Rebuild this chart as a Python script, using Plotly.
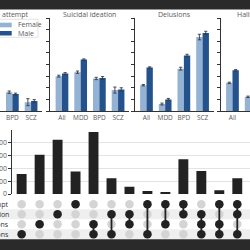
import plotly.graph_objects as go

# ---------------- data ----------------
groups = ["All", "MDD", "BPD", "SCZ"]
panel_titles = ["Suicide attempt", "Suicidal ideation", "Delusions", "Hallucinations"]

attempt_f = [None, None, 8.1, 3.8]
attempt_m = [None, None, 7.3, 4.3]
attempt_f_err = [0, 0, 0.5, 1.5]
attempt_m_err = [0, 0, 0.4, 0.6]

ideation_f = [15.0, 16.7, 14.0, 9.0]
ideation_m = [16.1, 22.1, 14.2, 9.3]
ideation_f_err = [0.4, 0.5, 0.5, 1.3]
ideation_m_err = [0.4, 0.3, 0.6, 0.7]

delusions_f = [11.1, 3.0, 18.2, 31.8]
delusions_m = [18.7, 5.0, 23.9, 33.6]
delusions_f_err = [0.3, 0.4, 0.6, 1.2]
delusions_m_err = [0.3, 0.4, 0.5, 0.7]

halluc_f = [12.1, 6.1, None, None]
halluc_m = [17.5, None, None, None]
halluc_f_err = [0.3, 0.3, 0, 0]
halluc_m_err = [0.3, 0, 0, 0]

set_names = ["Suicide attempt", "Suicidal ideation", "Delusions", "Hallucinations"]
intersections = [
    ("Hallucinations",),
    ("Delusions",),
    ("Suicidal ideation",),
    ("Suicide attempt",),
    ("Delusions", "Hallucinations"),
    ("Suicidal ideation", "Hallucinations"),
    ("Suicidal ideation", "Delusions"),
    ("Suicide attempt", "Hallucinations"),
    ("Suicide attempt", "Delusions"),
    ("Suicide attempt", "Suicidal ideation"),
    ("Suicidal ideation", "Delusions", "Hallucinations"),
    ("Suicide attempt", "Delusions", "Hallucinations"),
    ("Suicide attempt", "Suicidal ideation", "Hallucinations"),
]
intersection_counts = [781, 1523, 2109, 871, 2410, 613, 285, 117, 65, 1355, 898, 145, 613]

# ---------------- styling ----------------
W = H = 250
FEM = "#93b2d4"
MALE = "#23528c"
DARK = "#222222"
GREY_TXT = "#595959"
FONT = "Open Sans"

def px_x(v):
    return v / W

def px_y(v):
    return 1 - v / H

fig = go.Figure()

panels = [
    (attempt_f, attempt_m, attempt_f_err, attempt_m_err),
    (ideation_f, ideation_m, ideation_f_err, ideation_m_err),
    (delusions_f, delusions_m, delusions_f_err, delusions_m_err),
    (halluc_f, halluc_m, halluc_f_err, halluc_m_err),
]
unit = 18.7
axis_px = [-37.0, 50.0, 134.5, 220.5]
x0u = -0.64
full_w = 4.24 * unit

for i, (f, m, fe, me) in enumerate(panels):
    ax = "" if i == 0 else str(i + 1)
    for vals, errs, col, name in [(f, fe, FEM, "Female"), (m, me, MALE, "Male")]:
        fig.add_trace(go.Bar(
            x=groups, y=vals, name=name, marker_color=col, showlegend=False,
            marker_line_width=0,
            error_y=dict(type="data", array=errs, color="#3a3a3a", thickness=0.9, width=1.6),
            xaxis="x" + ax, yaxis="y" + ax, offsetgroup=name,
        ))
    left = axis_px[i]
    right = left + full_w
    d0, d1 = max(left, 0), min(right, W)
    r0 = x0u + (d0 - left) / unit
    r1 = x0u + (d1 - left) / unit
    fig.layout["xaxis" + ax] = dict(
        domain=[px_x(d0), px_x(d1)], range=[r0, r1], type="category",
        showline=True, linecolor="#333333", linewidth=0.8, ticks="",
        tickfont=dict(size=6.5, color=GREY_TXT, family=FONT), showgrid=False,
        anchor="y" + ax, fixedrange=True,
    )
    fig.layout["yaxis" + ax] = dict(
        domain=[px_y(111), px_y(18)], range=[0, 40], dtick=5,
        showline=(left >= 0), linecolor="#333333", linewidth=0.8,
        ticks="outside" if left >= 0 else "", ticklen=3, tickcolor="#333333", tickwidth=0.8,
        showticklabels=False, showgrid=False, zeroline=False,
        anchor="x" + ax, fixedrange=True,
    )
    fig.add_annotation(
        x=px_x((left + right) / 2), y=px_y(14), xref="paper", yref="paper",
        text=panel_titles[i], showarrow=False, xanchor="center", yanchor="middle",
        font=dict(size=7, color=GREY_TXT, family=FONT),
    )

# ---------------- UpSet bars ----------------
n = len(intersections)
cols = list(range(n))
fig.add_trace(go.Bar(
    x=cols, y=intersection_counts, marker_color=DARK, marker_line_width=0,
    showlegend=False, xaxis="x5", yaxis="y5", width=0.55,
))
xr = [-0.52, -0.52 + (W - 12.3) / 17.97]
fig.layout.xaxis5 = dict(domain=[px_x(12.3), 1.0], range=xr, visible=False,
                         anchor="y5", fixedrange=True)
fig.layout.yaxis5 = dict(
    domain=[px_y(194), px_y(130)], range=[0, 2490], dtick=500,
    showline=True, linecolor="#333333", linewidth=0.8,
    ticks="outside", ticklen=3, tickcolor="#333333", tickwidth=0.8,
    showgrid=True, gridcolor="#e3e3e3", gridwidth=0.8, zeroline=False,
    tickfont=dict(size=7, color=GREY_TXT, family=FONT),
    anchor="x5", fixedrange=True,
)

# ---------------- UpSet matrix ----------------
row_of = {name: len(set_names) - 1 - k for k, name in enumerate(set_names)}
gx, gy = [], []
for c in cols:
    for name in set_names:
        gx.append(c)
        gy.append(row_of[name])
fig.add_trace(go.Scatter(x=gx, y=gy, mode="markers",
                         marker=dict(size=8.5, color="#d4d4d4", line=dict(width=0)),
                         showlegend=False, xaxis="x6", yaxis="y6"))
for c, inter in zip(cols, intersections):
    rows = [row_of[s] for s in inter]
    if len(rows) > 1:
        fig.add_trace(go.Scatter(x=[c, c], y=[min(rows), max(rows)], mode="lines",
                                 line=dict(color=DARK, width=1.8),
                                 showlegend=False, xaxis="x6", yaxis="y6"))
ax_, ay_ = [], []
for c, inter in zip(cols, intersections):
    for s in inter:
        ax_.append(c)
        ay_.append(row_of[s])
fig.add_trace(go.Scatter(x=ax_, y=ay_, mode="markers",
                         marker=dict(size=8.5, color=DARK, line=dict(width=0)),
                         showlegend=False, xaxis="x6", yaxis="y6"))
fig.layout.xaxis6 = dict(domain=[px_x(12.3), 1.0], range=xr, visible=False,
                         anchor="y6", fixedrange=True)
fig.layout.yaxis6 = dict(domain=[px_y(239.3), px_y(199.3)], range=[-0.5, 3.5],
                         visible=False, anchor="x6", fixedrange=True)

shapes = []
for name in ["Suicidal ideation", "Hallucinations"]:
    r = row_of[name]
    shapes.append(dict(type="rect", xref="paper", yref="y6", x0=0, x1=1,
                       y0=r - 0.5, y1=r + 0.5, fillcolor="#efefef",
                       line=dict(width=0), layer="below"))
for name in set_names:
    fig.add_annotation(x=px_x(11), y=row_of[name], xref="paper", yref="y6",
                       text=name, showarrow=False, xanchor="right", yanchor="middle",
                       font=dict(size=7, color="#333333", family=FONT))

# ---------------- legend (drawn) ----------------
shapes.append(dict(type="rect", xref="paper", yref="paper",
                   x0=px_x(-30), x1=px_x(38), y0=px_y(37.3), y1=px_y(19.3),
                   fillcolor="rgba(255,255,255,0.85)", line=dict(color="#dddddd", width=0.8)))
shapes.append(dict(type="rect", xref="paper", yref="paper",
                   x0=px_x(-12), x1=px_x(11.7), y0=px_y(27.3), y1=px_y(22.7),
                   fillcolor=FEM, line=dict(width=0)))
shapes.append(dict(type="rect", xref="paper", yref="paper",
                   x0=px_x(-12), x1=px_x(11.7), y0=px_y(35.5), y1=px_y(31.0),
                   fillcolor=MALE, line=dict(width=0)))
for txt, yy in [("Female", 25), ("Male", 33.2)]:
    fig.add_annotation(x=px_x(15.5), y=px_y(yy), xref="paper", yref="paper",
                       text=txt, showarrow=False, xanchor="left", yanchor="middle",
                       font=dict(size=7, color=GREY_TXT, family=FONT))

# ---------------- dark bands ----------------
shapes.append(dict(type="rect", xref="paper", yref="paper", x0=0, x1=1,
                   y0=px_y(9.5), y1=1, fillcolor="#2a2a2a", line=dict(width=0), layer="above"))
shapes.append(dict(type="rect", xref="paper", yref="paper", x0=0, x1=1,
                   y0=0, y1=px_y(239.3), fillcolor="#2a2a2a", line=dict(width=0), layer="above"))

fig.update_layout(
    template="none",
    width=W, height=H, margin=dict(l=0, r=0, t=0, b=0),
    paper_bgcolor="white", plot_bgcolor="rgba(0,0,0,0)",
    barmode="group", bargap=0.32, bargroupgap=0,
    shapes=shapes, showlegend=False,
    font=dict(family=FONT, color=GREY_TXT),
)

fig.write_html("out.html")
